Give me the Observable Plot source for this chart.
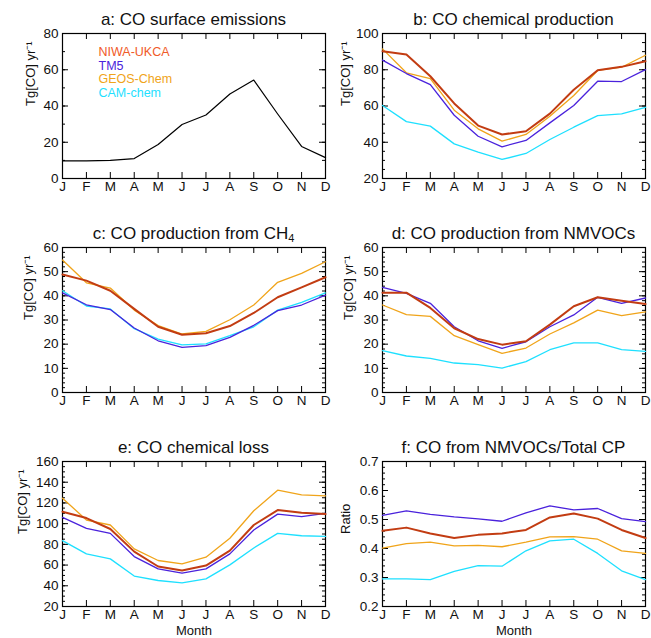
<!DOCTYPE html>
<html><head><meta charset="utf-8">
<script src="https://cdn.jsdelivr.net/npm/d3@7"></script>
<script src="https://cdn.jsdelivr.net/npm/@observablehq/plot@0.6"></script>
<style>
body{margin:0;background:#fff;font-family:"Liberation Sans",Arial,sans-serif}
#c{position:relative;width:651px;height:638px;overflow:hidden}
.p{position:absolute}
.t{position:absolute;font-size:17px;white-space:nowrap;transform:translateX(-50%);color:#111;line-height:18px}
.t sub{font-size:11px;vertical-align:-3px;line-height:0}
</style></head><body><div id="c"></div>
<script>
const months = ["J","F","M","A","M","J","J","A","S","O","N","D"];
const models = ["NIWA-UKCA","TM5","GEOS-Chem","CAM-chem"];
const lineColors = ["#c23c12","#4a22dc","#f0a41a","#1ee0ff"];
const legendColors = ["#f05a28","#4a22dc","#f0a41a","#1ee0ff"];

// a: CO surface emissions
const surfaceEmissions = [9.7,9.7,10,11,18.8,29.8,35,46.6,54.3,35.6,17.7,11.5];

// b: CO chemical production
const prodNIWA = [90.2,88.4,76.4,61.4,49.2,44.3,46.1,55.8,69,79.7,81.6,84.7];
const prodTM5  = [85.3,77.9,71.8,54.9,43.3,37.5,41,50.7,60.3,73.7,73.5,80.1];
const prodGEOS = [91.5,78.3,75.1,57.7,47.4,40.6,44.3,54.4,65.8,79.6,81.4,88];
const prodCAM  = [60.3,51.4,48.9,39.1,34.5,30.5,33.8,41.5,48.3,54.7,55.7,59.3];

// c: CO production from CH4
const ch4NIWA = [48.8,46.3,42.1,34.6,27.2,23.9,24.5,27.5,32.9,39.4,43.5,47.7];
const ch4TM5  = [41.2,36.3,34.3,26.7,21.4,18.7,19.4,22.8,27.8,33.9,36.2,40.3];
const ch4GEOS = [54.8,45.4,43.2,34.1,27.7,24.2,25.3,30.1,36.2,45.6,49.3,54.1];
const ch4CAM  = [42.1,35.8,34.6,26.4,22.1,19.7,20.1,23.5,27.2,34.1,37.3,41.2];

// d: CO production from NMVOCs
const vocNIWA = [41.3,41.3,35,26.6,22.1,19.8,21.2,28.1,35.7,39.4,38,36.6];
const vocTM5  = [43.5,41,36.9,27.2,21.4,18.3,21,27.2,32.1,39.4,36.9,39.1];
const vocGEOS = [36.2,32.2,31.5,23.5,19.8,16.2,18.4,24.2,28.8,34.1,31.8,33.4];
const vocCAM  = [17.3,15.1,14.1,12.2,11.5,10.1,12.8,17.7,20.5,20.5,17.7,17.0];

// e: CO chemical loss
const lossNIWA = [111.5,105.4,94.8,73,58.6,54.7,59.5,73.9,98.7,113.1,110.5,109.2];
const lossTM5  = [106,95.4,90.6,68.2,56.3,52.2,56.3,70.8,93.9,109.2,106.7,109.9];
const lossGEOS = [124.6,103.5,98.7,75.6,64.4,61.2,67.6,85.9,112.4,132.3,127.8,126.9];
const lossCAM  = [83.6,70.8,66,49.4,45.1,42.9,46.7,60.2,76.5,90.6,88.3,87.7];

// f: CO from NMVOCs / total CP
const ratioNIWA = [0.461,0.472,0.452,0.436,0.447,0.452,0.464,0.507,0.521,0.503,0.464,0.436];
const ratioTM5  = [0.514,0.530,0.518,0.509,0.502,0.494,0.523,0.547,0.533,0.538,0.503,0.493];
const ratioGEOS = [0.401,0.417,0.422,0.409,0.411,0.406,0.422,0.440,0.441,0.432,0.392,0.383];
const ratioCAM  = [0.295,0.295,0.293,0.321,0.341,0.339,0.392,0.426,0.432,0.383,0.323,0.293];

const yLabelTg = "Tg[CO] yr\u207B\u00B9";

function toRows(seriesList) {
  const rows = [];
  seriesList.forEach((vals, k) => vals.forEach((v, i) => rows.push({model: models[k], k, i, v})));
  return rows;
}

const container = document.getElementById("c");

function panel(o) {
  const months12 = d3.range(12);
  const fw = o.width - o.ml - o.mr;
  const fh = o.height - o.mt - o.mb;
  const marks = [
    Plot.frame({stroke: "black", strokeWidth: 1.2}),
    Plot.axisY(o.major, {anchor: "left", tickSize: 0, tickPadding: 4, fontSize: 13.5, label: null, tickFormat: o.fmt, fill: "#111"}),
    Plot.tickY(o.major, {y: d => d, insetRight: fw - 6, stroke: "black"}),
    Plot.tickY(o.major, {y: d => d, insetLeft: fw - 6, stroke: "black"}),
    Plot.tickY(o.minor, {y: d => d, insetRight: fw - 3, stroke: "black"}),
    Plot.tickY(o.minor, {y: d => d, insetLeft: fw - 3, stroke: "black"}),
    Plot.axisX(months12, {anchor: "bottom", tickSize: 0, tickPadding: 3, fontSize: 13.5, tickFormat: i => months[i], label: null, fill: "#111"}),
    Plot.tickX(months12, {x: d => d, insetTop: fh - 6, stroke: "black"}),
    Plot.tickX(months12, {x: d => d, insetBottom: fh - 6, stroke: "black"}),
    Plot.text([o.yLabel], {frameAnchor: "left", dx: o.ylDx, rotate: -90, fontSize: 13, fill: "#111"})
  ];
  if (o.single) {
    marks.push(Plot.lineY(o.single, {x: (d, i) => i, y: d => d, stroke: "black", strokeWidth: 1.2}));
  } else {
    const rows = toRows(o.series);
    const order = [2, 3, 1, 0];
    order.forEach(k => {
      marks.push(Plot.lineY(rows.filter(r => r.k === k), {x: "i", y: "v", stroke: lineColors[k], strokeWidth: k === 0 ? 2 : 1.3}));
    });
  }
  if (o.legend) {
    models.forEach((m, i) => marks.push(Plot.text([m], {frameAnchor: "top-left", dx: 36, dy: 14 + i * 13.5, fill: legendColors[i], textAnchor: "start", fontSize: 12.5})));
  }
  if (o.xLabel) {
    marks.push(Plot.text([o.xLabel], {frameAnchor: "bottom", dy: 28, fontSize: 13, fill: "#111"}));
  }
  const chart = Plot.plot({
    width: o.width, height: o.height,
    marginLeft: o.ml, marginRight: o.mr, marginTop: o.mt, marginBottom: o.mb,
    style: {fontFamily: "'Liberation Sans', Arial, sans-serif", background: "transparent", overflow: "visible"},
    x: {domain: [0, 11], axis: null},
    y: {domain: o.domain, axis: null},
    marks
  });
  chart.classList.add("p");
  chart.style.left = o.left + "px";
  chart.style.top = o.top + "px";
  container.appendChild(chart);
  const t = document.createElement("div");
  t.className = "t";
  t.innerHTML = o.title;
  t.style.left = (o.left + o.ml + fw / 2) + "px";
  t.style.top = (o.top + o.mt - o.titleGap) + "px";
  container.appendChild(t);
}

const L = {left: 0, width: 330, ml: 62, mr: 5};
const R = {left: 320, width: 331, ml: 62, mr: 6};
const row1 = {top: 0, height: 200, mt: 33, mb: 22, titleGap: 22};
const row2 = {top: 200, height: 215, mt: 47, mb: 23, titleGap: 22};
const row3 = {top: 420, height: 218, mt: 41, mb: 32, titleGap: 22};

panel({...L, ...row1, title: "a: CO surface emissions", domain: [0, 80], major: d3.range(0, 81, 20), minor: d3.range(0, 81, 10),
  single: surfaceEmissions, yLabel: yLabelTg, ylDx: -32, legend: true});
panel({...R, ...row1, title: "b: CO chemical production", domain: [20, 100], major: d3.range(20, 101, 20), minor: d3.range(20, 101, 5),
  series: [prodNIWA, prodTM5, prodGEOS, prodCAM], yLabel: yLabelTg, ylDx: -37});
panel({...L, ...row2, title: "c: CO production from CH<sub>4</sub>", domain: [0, 60], major: d3.range(0, 61, 10), minor: d3.range(0, 61, 2),
  series: [ch4NIWA, ch4TM5, ch4GEOS, ch4CAM], yLabel: yLabelTg, ylDx: -34});
panel({...R, ...row2, title: "d: CO production from NMVOCs", domain: [0, 60], major: d3.range(0, 61, 10), minor: d3.range(0, 61, 2),
  series: [vocNIWA, vocTM5, vocGEOS, vocCAM], yLabel: yLabelTg, ylDx: -34});
panel({...L, ...row3, title: "e: CO chemical loss", domain: [20, 160], major: d3.range(20, 161, 20), minor: d3.range(20, 161, 5),
  series: [lossNIWA, lossTM5, lossGEOS, lossCAM], yLabel: yLabelTg, ylDx: -40, xLabel: "Month"});
panel({...R, ...row3, title: "f: CO from NMVOCs/Total CP", domain: [0.2, 0.7], major: d3.range(2, 8).map(v => v / 10), minor: d3.range(20, 71, 2).map(v => v / 100),
  series: [ratioNIWA, ratioTM5, ratioGEOS, ratioCAM], yLabel: "Ratio", ylDx: -37, xLabel: "Month", fmt: d3.format(".1f")});
</script></body></html>
